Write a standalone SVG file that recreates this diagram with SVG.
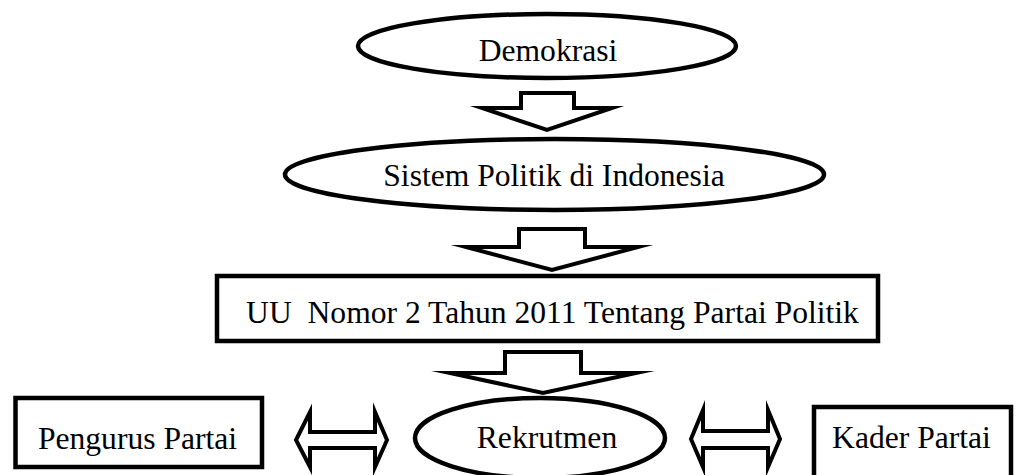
<svg xmlns="http://www.w3.org/2000/svg" width="1017" height="475" viewBox="0 0 1017 475">
<style>
.n{fill:#fff;stroke:#000;stroke-width:4.5}
.a{fill:#fff;stroke:#000;stroke-width:4;stroke-linejoin:miter;stroke-miterlimit:10}
.t{font-family:"Liberation Serif","Times New Roman",serif;font-size:31.6px;fill:#000;text-anchor:middle}
</style>
<rect width="1017" height="475" fill="#fff"/>
<g id="demokrasi">
<ellipse class="n" cx="547" cy="46" rx="189" ry="32"/>
<text class="t" x="548" y="61">Demokrasi</text>
</g>
<g id="sistem">
<ellipse class="n" cx="554.5" cy="174.5" rx="269.5" ry="35.5"/>
<text class="t" x="554" y="186">Sistem Politik di Indonesia</text>
</g>
<g id="uu">
<rect class="n" x="217" y="276" width="661" height="65"/>
<text class="t" x="552.5" y="323" xml:space="preserve">UU  Nomor 2 Tahun 2011 Tentang Partai Politik</text>
</g>
<g id="pengurus">
<rect class="n" x="15.5" y="398" width="246.5" height="69"/>
<text class="t" x="137.5" y="449">Pengurus Partai</text>
</g>
<g id="rekrutmen">
<ellipse class="n" cx="540" cy="438" rx="125" ry="40"/>
<text class="t" x="547" y="448">Rekrutmen</text>
</g>
<g id="kader">
<rect class="n" x="814" y="407" width="197" height="80"/>
<text class="t" x="911.5" y="448">Kader Partai</text>
</g>
<g id="connectors">
<polygon class="a" points="521,93 574,93 574,108 612,108 547,130 482,108 521,108"/>
<polygon class="a" points="519,229 585,229 585,247 638,247 552,270 466,247 519,247"/>
<polygon class="a" points="505,352 581,352 581,373 636,373 543,393 450,373 505,373"/>
<polygon class="a" points="296,440 310,412 310,432 375,432 375,412 387,440 375,467 375,448 310,448 310,467"/>
<polygon class="a" points="691,439 703,410 703,431 768,431 768,410 780,439 768,467 768,448 703,448 703,467"/>
</g>
</svg>
